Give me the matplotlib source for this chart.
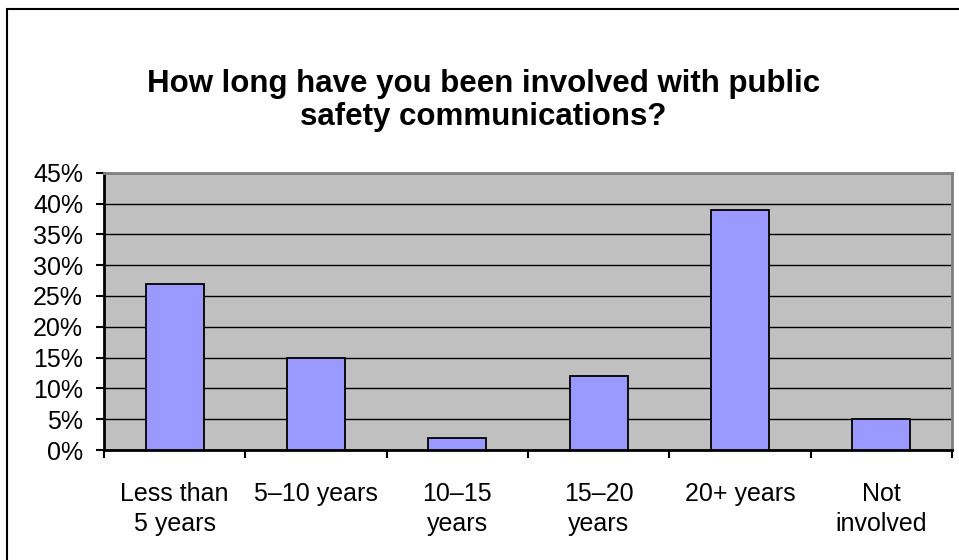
import matplotlib
matplotlib.use("Agg")
import matplotlib.pyplot as plt
from matplotlib.patches import Rectangle
from matplotlib.ticker import FuncFormatter
import numpy as np

categories = ["Less than\n5 years", "5\u201310 years", "10\u201315\nyears",
              "15\u201320\nyears", "20+ years", "Not\ninvolved"]
shares = [27, 15, 2, 12, 39, 5]
y_ticks = [0, 5, 10, 15, 20, 25, 30, 35, 40, 45]

plt.rcParams["font.family"] = ["Liberation Sans", "DejaVu Sans"]

fig = plt.figure(figsize=(9.59, 5.6), dpi=100)
ax = fig.add_axes([0.1084, 0.1964, 0.8843, 0.4952])

x = np.arange(len(categories))
ax.set_axisbelow(True)
ax.bar(x, shares, width=0.41, color="#9999FF", edgecolor="black", linewidth=1.3, zorder=3)

ax.set_facecolor("#C0C0C0")
ax.set_xlim(-0.5, len(categories) - 0.5)
ax.set_ylim(0, 45)
ax.set_yticks(y_ticks)
ax.yaxis.set_major_formatter(FuncFormatter(lambda v, p: f"{v:.0f}%"))
ax.grid(axis="y", color="black", linewidth=1.0, zorder=1)

ax.set_xticks(x)
ax.set_xticklabels(categories, fontsize=18, linespacing=1.32)
ax.set_xticks(np.arange(len(categories) + 1) - 0.5, minor=True)
ax.tick_params(axis="x", which="major", length=0, pad=23)
ax.tick_params(axis="x", which="minor", length=6, width=1.5, direction="out")
ax.tick_params(axis="y", labelsize=18, length=6, width=1.5, direction="out", pad=9)

ax.spines["left"].set_linewidth(2)
ax.spines["bottom"].set_linewidth(2)
ax.spines["top"].set_color("#808080")
ax.spines["top"].set_linewidth(2)
ax.spines["right"].set_color("#808080")
ax.spines["right"].set_linewidth(2)

fig.text(0.504, 0.821, "How long have you been involved with public\nsafety communications?",
         ha="center", va="center", fontsize=22.5, fontweight="bold", linespacing=1.12)

# chart-area border (left and top edges only are inside the image)
fig.patches.append(Rectangle((7 / 959, -0.01), 1.0, 1 - 8.5 / 560 + 0.01,
                             transform=fig.transFigure, fill=False,
                             edgecolor="black", linewidth=1.5))

fig.savefig("out.png", dpi=100)
